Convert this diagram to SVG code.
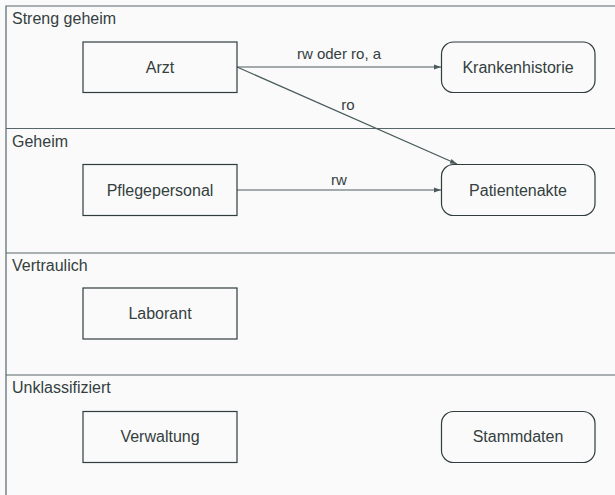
<svg xmlns="http://www.w3.org/2000/svg" width="615" height="495" viewBox="0 0 615 495">
<style>
.bg{fill:#fafafa}
.lane{fill:none;stroke:#56666a;stroke-width:1.2}
.lbl{font-family:"Liberation Sans",Arial,sans-serif;font-size:16px;fill:#34403f}
.box{fill:#fafafa;stroke:#2f3d3f;stroke-width:1.2}
.txt{font-family:"Liberation Sans",Arial,sans-serif;font-size:16px;fill:#34403f;text-anchor:middle}
.edge{fill:none;stroke:#4a5a5c;stroke-width:1.2}
.elbl{font-family:"Liberation Sans",Arial,sans-serif;font-size:15px;fill:#34403f;text-anchor:middle}
</style>
<defs>
<marker id="arr" viewBox="0 0 10 10" refX="10" refY="5" markerWidth="7" markerHeight="7" orient="auto" markerUnits="userSpaceOnUse">
<path d="M0,1.5 L10,5 L0,8.5 Z" fill="#4a5a5c"/>
</marker>
</defs>
<rect class="bg" x="0" y="0" width="615" height="495"/>
<g id="lanes">
<path class="lane" d="M620,6 H6 V500"/>
<path class="lane" d="M6,128.5 H620"/>
<path class="lane" d="M6,253 H620"/>
<path class="lane" d="M6,375 H620"/>
<text class="lbl" x="12" y="24">Streng geheim</text>
<text class="lbl" x="12" y="147">Geheim</text>
<text class="lbl" x="12" y="271">Vertraulich</text>
<text class="lbl" x="12" y="393">Unklassifiziert</text>
</g>
<g id="connectors">
<line class="edge" x1="237" y1="67" x2="441" y2="67" marker-end="url(#arr)"/>
<text class="elbl" x="339" y="59">rw oder ro, a</text>
<line class="edge" x1="237" y1="67" x2="457" y2="164" marker-end="url(#arr)"/>
<text class="elbl" x="348" y="110">ro</text>
<line class="edge" x1="237" y1="190" x2="441" y2="190" marker-end="url(#arr)"/>
<text class="elbl" x="339" y="185">rw</text>
</g>
<g id="arzt"><rect class="box" x="83" y="42" width="154" height="50.5"/><text class="txt" x="160" y="73">Arzt</text></g>
<g id="krankenhistorie"><rect class="box" x="441.5" y="42" width="153.5" height="50.5" rx="12"/><text class="txt" x="518" y="73">Krankenhistorie</text></g>
<g id="pflegepersonal"><rect class="box" x="83" y="164.5" width="154" height="51"/><text class="txt" x="160" y="196">Pflegepersonal</text></g>
<g id="patientenakte"><rect class="box" x="441.5" y="164.5" width="153.5" height="51" rx="12"/><text class="txt" x="518" y="196">Patientenakte</text></g>
<g id="laborant"><rect class="box" x="83" y="288" width="154" height="51"/><text class="txt" x="160" y="319">Laborant</text></g>
<g id="verwaltung"><rect class="box" x="83" y="411.5" width="154" height="51"/><text class="txt" x="160" y="442">Verwaltung</text></g>
<g id="stammdaten"><rect class="box" x="441.5" y="411.5" width="153.5" height="51" rx="12"/><text class="txt" x="518" y="442">Stammdaten</text></g>
</svg>
